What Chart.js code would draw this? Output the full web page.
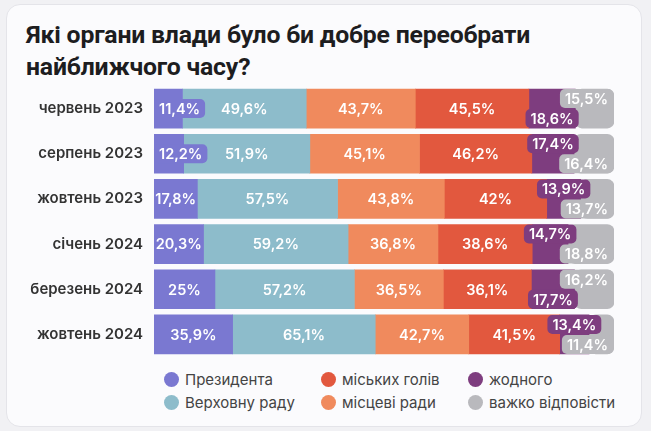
<!DOCTYPE html>
<html lang="uk">
<head>
<meta charset="UTF-8">
<title>Органи влади</title>
<script src="https://cdn.jsdelivr.net/npm/chart.js"></script>
<style>
  html, body { margin: 0; padding: 0; }
  body { width: 651px; height: 431px; background: #f1f1f4; position: relative; overflow: hidden; font-family: Inter, sans-serif; }
  .card { position: absolute; left: 6px; top: 4px; width: 636px; height: 423px; background: #fbfbfd; border: 1px solid #e4e4e9; border-radius: 14px; box-sizing: border-box; }
  h1 { position: absolute; left: 26px; top: 19px; margin: 0; font-family: Roboto, sans-serif; font-weight: 700; font-size: 24.8px; line-height: 32px; color: #1d1d1f; letter-spacing: -0.2px; }
  #chart { position: absolute; left: 0; top: 86px; }
  .legend { position: absolute; left: 164px; top: 368px; display: grid; grid-template-columns: 157px 147px auto; grid-auto-flow: column; grid-template-rows: 23px 23px; }
  .legend div { display: flex; align-items: center; font-size: 15px; color: #444; }
  .legend span { width: 15px; height: 15px; border-radius: 50%; margin-right: 6px; flex: none; }
</style>
</head>
<body>
<div class="card"></div>
<h1>Які органи влади було би добре переобрати<br>найближчого часу?</h1>
<canvas id="chart" width="651" height="271"></canvas>
<div class="legend" id="legend"></div>
<script>
const months = ['червень 2023', 'серпень 2023', 'жовтень 2023', 'січень 2024', 'березень 2024', 'жовтень 2024'];
const seriesNames = ['Президента', 'Верховну раду', 'місцеві ради', 'міських голів', 'жодного', 'важко відповісти'];
const president = [11.4, 12.2, 17.8, 20.3, 25, 35.9];
const parliament = [49.6, 51.9, 57.5, 59.2, 57.2, 65.1];
const localCouncils = [43.7, 45.1, 43.8, 36.8, 36.5, 42.7];
const mayors = [45.5, 46.2, 42, 38.6, 36.1, 41.5];
const nobody = [18.6, 17.4, 13.9, 14.7, 17.7, 13.4];
const hardToSay = [15.5, 16.4, 13.7, 18.8, 16.2, 11.4];

const colors = ['#7a78d1', '#8dbccb', '#f08a5d', '#e2583e', '#7e3d7f', '#b9b9bd'];
const allSeries = [president, parliament, localCouncils, mayors, nobody, hardToSay];
// in which rows the "важко відповісти" label sits above the "жодного" one
const greyOnTop = [true, false, false, false, true, false];

const totals = months.map((m, i) => allSeries.reduce((s, arr) => s + arr[i], 0));

function fmt(v) {
  return String(v).replace('.', ',') + '%';
}

// legend (two rows, filled column by column)
const legendOrder = [0, 1, 3, 2, 4, 5];
const legendEl = document.getElementById('legend');
legendOrder.forEach(j => {
  const d = document.createElement('div');
  d.innerHTML = '<span style="background:' + colors[j] + '"></span>' + seriesNames[j];
  legendEl.appendChild(d);
});

const labelPlugin = {
  id: 'segLabels',
  afterDatasetsDraw(chart) {
    const ctx = chart.ctx;
    ctx.save();
    ctx.font = '600 14.5px Inter';
    ctx.textAlign = 'center';
    ctx.textBaseline = 'middle';
    months.forEach((m, i) => {
      const first = chart.getDatasetMeta(0).data[i];
      const last = chart.getDatasetMeta(allSeries.length - 1).data[i];
      const barStart = first.base;
      const barEnd = last.x;
      allSeries.forEach((arr, j) => {
        const el = chart.getDatasetMeta(j).data[i];
        const s = Math.min(el.base, el.x), e = Math.max(el.base, el.x);
        const h = el.height;
        const txt = fmt(arr[i]);
        const tw = ctx.measureText(txt).width;
        let cy = el.y;
        let badge = false;
        const bw = tw + 10, bh = 19;
        if (j >= 4) {
          badge = true;
          const up = (j === 5) === greyOnTop[i];
          cy = up ? el.y - h / 2 + bh / 2 : el.y + h / 2 - bh / 2;
        } else if (tw > e - s - 1) {
          badge = true;
        }
        let cx = (s + e) / 2;
        if (badge) {
          let bx = cx - bw / 2;
          if (bx < barStart) bx = barStart;
          if (bx + bw > barEnd - 1) bx = barEnd - 1 - bw;
          ctx.fillStyle = colors[j];
          ctx.beginPath();
          ctx.roundRect(bx, cy - bh / 2, bw, bh, 5);
          ctx.fill();
          cx = bx + bw / 2;
        }
        ctx.fillStyle = '#ffffff';
        ctx.fillText(txt, cx, cy + 1);
      });
    });
    ctx.restore();
  }
};

new Chart(document.getElementById('chart'), {
  type: 'bar',
  data: {
    labels: months,
    datasets: allSeries.map((arr, j) => ({
      label: seriesNames[j],
      data: arr.map((v, i) => v / totals[i] * 100),
      backgroundColor: colors[j],
      borderWidth: 0,
      borderRadius: 7,
      borderSkipped: false,
      barThickness: 39
    }))
  },
  options: {
    indexAxis: 'y',
    responsive: false,
    animation: false,
    layout: { padding: { left: 0, right: 37, top: 0, bottom: 0 } },
    plugins: {
      legend: { display: false },
      tooltip: { enabled: false }
    },
    scales: {
      x: { stacked: true, display: false, min: 0, max: 100 },
      y: {
        stacked: true,
        grid: { display: false, drawTicks: false },
        border: { display: false },
        ticks: { color: '#333', font: { family: 'Inter', size: 15, weight: '600' }, padding: 11 },
        afterFit(scale) {
          scale.width = 154;
          scale.paddingTop = 0;
          scale.paddingBottom = 0;
        }
      }
    }
  },
  plugins: [labelPlugin]
});
</script>
</body>
</html>
